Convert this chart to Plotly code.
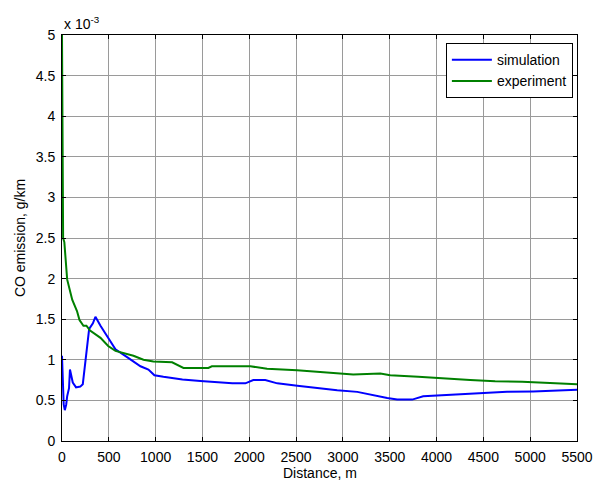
import plotly.graph_objects as go

# Simulated CO emission along the route (x in m, y in 1e-3 g/km)
sim_x = [0, 10, 18, 30, 45, 55, 66, 75, 85, 95, 115, 150, 195, 222, 269, 290, 330, 357,
         411, 493, 571, 699, 838, 923, 987, 1083, 1190, 1286, 1478, 1606, 1819, 1958,
         2043, 2171, 2299, 2513, 2726, 2939, 3153, 3292, 3473, 3580, 3740, 3857, 4220,
         4540, 4753, 5031, 5404, 5500]
sim_y = [1.05, 0.62, 0.45, 0.38, 0.45, 0.55, 0.62, 0.65, 0.88, 0.82, 0.72, 0.66, 0.67,
         0.70, 1.17, 1.38, 1.45, 1.53, 1.42, 1.27, 1.13, 1.03, 0.92, 0.88, 0.81, 0.79,
         0.77, 0.757, 0.74, 0.73, 0.71, 0.71, 0.75, 0.75, 0.71, 0.68, 0.65, 0.625,
         0.605, 0.57, 0.53, 0.51, 0.51, 0.55, 0.57, 0.59, 0.605, 0.61, 0.63, 0.63]

# Measured CO emission along the route
exp_x = [0, 3, 8, 12, 25, 55, 109, 160, 187, 229, 261, 300, 411, 493, 571, 763, 870,
         976, 1176, 1297, 1563, 1600, 2011, 2190, 2510, 2790, 3110, 3400, 3505, 3804,
         4060, 4359, 4626, 4914, 5212, 5458, 5500]
exp_y = [5.0, 3.75, 2.9, 2.5, 2.45, 1.99, 1.74, 1.6, 1.49, 1.42, 1.42, 1.36, 1.27,
         1.17, 1.11, 1.05, 1.0, 0.98, 0.97, 0.90, 0.90, 0.92, 0.92, 0.89, 0.87, 0.85,
         0.82, 0.83, 0.81, 0.79, 0.77, 0.75, 0.735, 0.73, 0.715, 0.70, 0.70]

x_ticks = list(range(0, 5501, 500))
y_ticks = [0, 0.5, 1, 1.5, 2, 2.5, 3, 3.5, 4, 4.5, 5]
y_tick_text = ["0", "0.5", "1", "1.5", "2", "2.5", "3", "3.5", "4", "4.5", "5"]

font = "Liberation Sans, Arial, sans-serif"

fig = go.Figure()
fig.add_trace(go.Scatter(x=sim_x, y=sim_y, mode="lines", name="simulation",
                         line=dict(color="#0000ff", width=2)))
fig.add_trace(go.Scatter(x=exp_x, y=exp_y, mode="lines", name="experiment",
                         line=dict(color="#008000", width=2)))

axis_common = dict(
    showline=True, linecolor="black", linewidth=1, mirror="ticks",
    ticks="inside", ticklen=4, tickcolor="black",
    showgrid=True, gridcolor="#9a9a9a", gridwidth=1,
    zeroline=False, automargin=False,
    tickfont=dict(family=font, size=14, color="black"),
)

fig.update_layout(
    width=595, height=482,
    margin=dict(l=62, r=18, t=35, b=41),
    paper_bgcolor="white", plot_bgcolor="white",
    font=dict(family=font, size=14, color="black"),
    xaxis=dict(range=[0, 5500], tickvals=x_ticks, ticklabelstandoff=3,
               **axis_common),
    yaxis=dict(range=[0, 5], tickvals=y_ticks, ticktext=y_tick_text,
               ticklabelstandoff=3,
               title=dict(text="CO emission, g/km", font=dict(size=14), standoff=6),
               **axis_common),
    legend=dict(x=0.992, y=0.98, xanchor="right", yanchor="top",
                bgcolor="white", bordercolor="black", borderwidth=1,
                font=dict(family=font, size=14), tracegroupgap=0,
                itemwidth=40),
    showlegend=True,
    annotations=[
        dict(text="x 10<sup>-3</sup>", xref="paper", yref="paper",
             x=0, y=1, xanchor="left", yanchor="bottom", yshift=1,
             showarrow=False, font=dict(family=font, size=14)),
        dict(text="Distance, m", xref="paper", yref="paper",
             x=0.5, y=0, xanchor="center", yanchor="middle", yshift=-32,
             showarrow=False, font=dict(family=font, size=14)),
    ],
)

fig.write_html("out.html")
